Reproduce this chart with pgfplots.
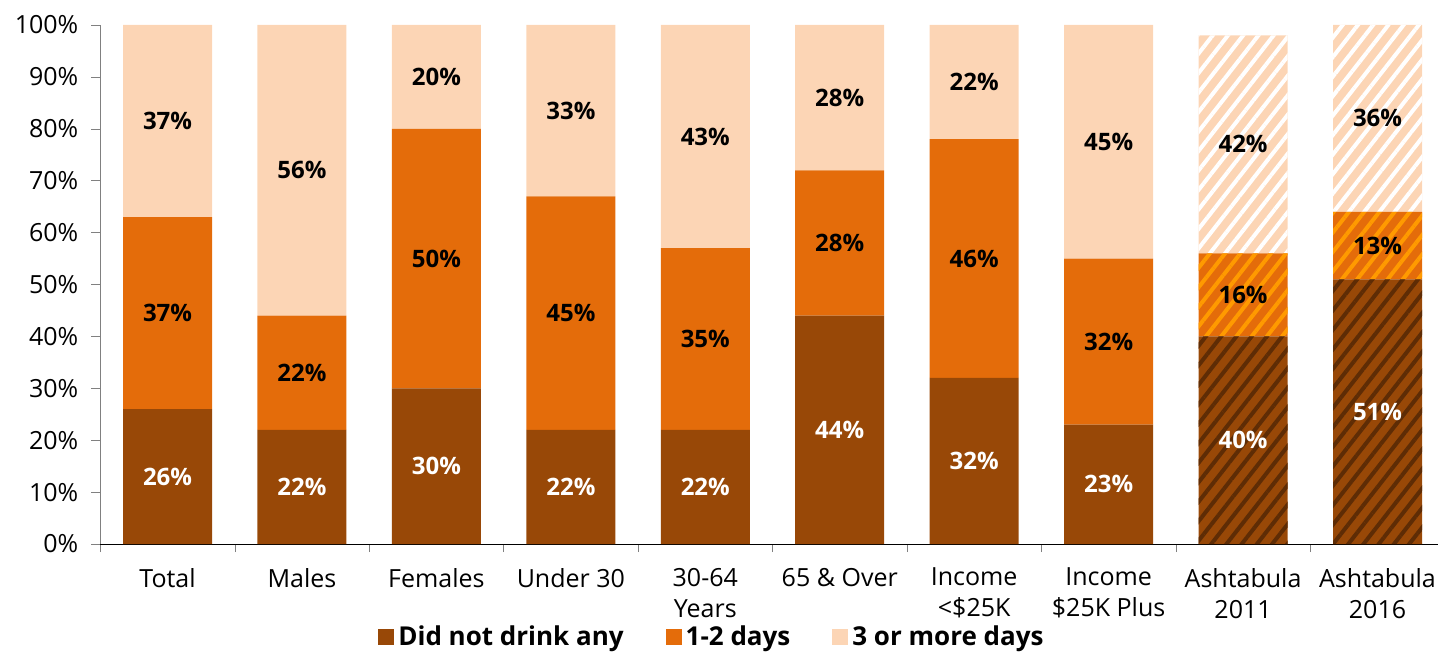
\documentclass[border=0pt]{standalone}
\usepackage{pgfplots}
\pgfplotsset{compat=1.18}
\usepackage{pgfplotstable}
\usepackage{fontspec}
\setmainfont{Open Sans}
\usetikzlibrary{patterns.meta,calc}
\definecolor{cdark}{HTML}{984807}
\definecolor{corange}{HTML}{E46C0A}
\definecolor{cpeach}{HTML}{FCD5B5}
\definecolor{cdarkstripe}{HTML}{5E2C05}
\definecolor{corangestripe}{HTML}{FF9A00}

\pgfplotstableread{
x d o p dh oh ph
0 26 37 37 0 0 0
1 22 22 56 0 0 0
2 30 50 20 0 0 0
3 22 45 33 0 0 0
4 22 35 43 0 0 0
5 44 28 28 0 0 0
6 32 46 22 0 0 0
7 23 32 45 0 0 0
8 0 0 0 40 16 42
9 0 0 0 51 13 36
}\datatable

\begin{document}
\begin{tikzpicture}
\begin{axis}[
  scale only axis, width=668.85pt, height=259.5pt,
  ybar stacked, bar width=0.662,
  xmin=-0.5, xmax=9.45, ymin=0, ymax=100,
  axis x line*=bottom, axis y line*=left,
  x axis line style={draw=black},
  y axis line style={draw=gray},
  ytick={0,10,...,100},
  yticklabel={\pgfmathprintnumber{\tick}\%},
  /pgf/number format/assume math mode=true,
  ytick style={draw=gray},
  xtick={0,...,9},
  xticklabels={Total, Males, Females, Under 30, {30-64\\Years}, {65 \& Over}, {Income\\<\$25K}, {Income\\\$25K Plus}, {Ashtabula\\2011}, {Ashtabula\\2016}},
  x tick label style={align=center, anchor=north, yshift=-4pt, font=\fontsize{12.5}{15.5}\selectfont},
  y tick label style={font=\fontsize{12.5}{15}\selectfont, xshift=-3pt},
  major x tick style={draw=none},
  minor xtick={-0.5,0.5,...,8.5},
  minor x tick style={draw=gray},
  tick align=outside,
  major tick length=4.5pt, minor tick length=4pt,
  point meta=explicit symbolic,
  nodes near coords={\ifnum\pgfplotspointmeta>0 \pgfplotspointmeta\%\fi},
  every node near coord/.append style={font=\bfseries\fontsize{12}{14}\selectfont, anchor=center},
  legend style={at={(0.458,-0.179)}, anchor=center, draw=none, legend columns=3,
    font=\bfseries\fontsize{13}{15}\selectfont,
    /tikz/every even column/.append style={column sep=19pt}},
  legend image code/.code={\fill[#1] (0pt,-4pt) rectangle (8pt,4pt);},
]
\addplot[fill=cdark, draw=none, every node near coord/.append style={white}] table[x=x,y=d,meta=d]{\datatable};
\addlegendentry{Did not drink any}
\addplot[forget plot, fill=cdark, draw=none, every node near coord/.append style={white},
  postaction={pattern={Lines[angle=52,distance=6pt,line width=2pt]}, pattern color=cdarkstripe}] table[x=x,y=dh,meta=dh]{\datatable};
\addplot[fill=corange, draw=none, every node near coord/.append style={black}] table[x=x,y=o,meta=o]{\datatable};
\addlegendentry{1-2 days}
\addplot[forget plot, fill=corange, draw=none, every node near coord/.append style={black},
  postaction={pattern={Lines[angle=52,distance=6pt,line width=2pt]}, pattern color=corangestripe}] table[x=x,y=oh,meta=oh]{\datatable};
\addplot[fill=cpeach, draw=none, every node near coord/.append style={black}] table[x=x,y=p,meta=p]{\datatable};
\addlegendentry{3 or more days}
\addplot[forget plot, fill=cpeach, draw=none, every node near coord/.append style={black},
  postaction={pattern={Lines[angle=52,distance=6pt,line width=2pt]}, pattern color=white}] table[x=x,y=ph,meta=ph]{\datatable};
\coordinate (bl) at (rel axis cs:0,0);
\end{axis}
\pgfresetboundingbox
\path[use as bounding box] ($(bl)+(-50.15pt,-54pt)$) rectangle ($(bl)+(668.85pt,272pt)$);
\end{tikzpicture}
\end{document}
